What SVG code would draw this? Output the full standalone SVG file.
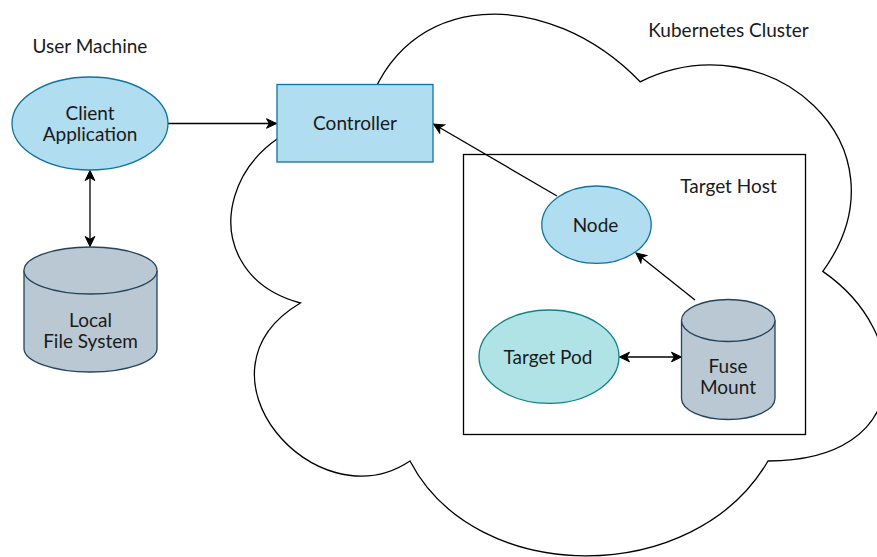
<svg xmlns="http://www.w3.org/2000/svg" width="877" height="557" viewBox="0 0 877 557">
  <style>
    text { font-family: Lato, "Noto Sans", "Liberation Sans", sans-serif; font-size: 19px; fill: #1a1a1a; text-anchor: middle; }
    .blue { fill: #b1ddf0; stroke: #10739e; stroke-width: 1.3; }
    .teal { fill: #b0e3e6; stroke: #0e8088; stroke-width: 1.3; }
    .disk { fill: #bac8d3; stroke: #23445d; stroke-width: 1.3; }
    .frame { fill: none; stroke: #000000; stroke-width: 1.3; }
    .edge { fill: none; stroke: #000000; stroke-width: 1.3; }
  </style>
  <defs>
    <marker id="arrow" viewBox="-11 -6 12 12" refX="0" refY="0" markerWidth="12" markerHeight="12" markerUnits="userSpaceOnUse" orient="auto-start-reverse">
      <path d="M0,0 L-10,-4.8 L-7.2,0 L-10,4.8 Z" fill="#000000" stroke="#000000" stroke-width="1" stroke-linejoin="miter"/>
    </marker>
  </defs>

  <rect width="877" height="557" fill="#ffffff"/>

  <!-- cluster cloud -->
  <g id="kubernetes-cluster">
    <path class="frame" fill="#ffffff" d="M366.15,113.4 C220.03,113.4 183.5,271.4 300.4,303 C183.5,372.5 315,524.2 410,461 C475.7,587.4 694.9,587.4 768,461 C914.1,461 914.1,334.6 822.8,271.4 C914.1,145 768,18.6 640.1,81.8 C548.8,-13 402.7,-13 366.15,113.4 Z"/>
    <text x="728.5" y="37">Kubernetes Cluster</text>
  </g>

  <!-- host boundary -->
  <g id="target-host">
    <rect class="frame" x="463.5" y="154.5" width="342" height="280"/>
    <text x="728.5" y="193">Target Host</text>
  </g>

  <g id="user-machine">
    <text x="90" y="53">User Machine</text>
  </g>

  <!-- connectors -->
  <g id="connectors">
    <line class="edge" x1="168" y1="123.5" x2="276.5" y2="123.5" marker-end="url(#arrow)"/>
    <line class="edge" x1="90" y1="170.5" x2="90" y2="246.5" marker-start="url(#arrow)" marker-end="url(#arrow)"/>
    <line class="edge" x1="557" y1="196" x2="433.5" y2="124" marker-end="url(#arrow)"/>
    <line class="edge" x1="695" y1="300" x2="636" y2="253" marker-end="url(#arrow)"/>
    <line class="edge" x1="619.5" y1="357" x2="681.5" y2="357" marker-start="url(#arrow)" marker-end="url(#arrow)"/>
  </g>

  <g id="controller">
    <rect class="blue" x="277" y="84.5" width="156" height="77.5"/>
    <text x="355" y="130">Controller</text>
  </g>

  <g id="client-application">
    <ellipse class="blue" cx="90" cy="123.5" rx="78" ry="46.5"/>
    <text x="90" y="120">Client</text>
    <text x="90" y="141">Application</text>
  </g>

  <g id="local-file-system">
    <path class="disk" d="M24,270.5 A66.5,23.5 0 0 1 157,270.5 L157,348.5 A66.5,23.5 0 0 1 24,348.5 Z"/>
    <path class="disk" fill="none" d="M24,270.5 A66.5,23.5 0 0 0 157,270.5"/>
    <text x="90.5" y="327">Local</text>
    <text x="90.5" y="348">File System</text>
  </g>

  <g id="node">
    <ellipse class="blue" cx="596.5" cy="224.7" rx="54.7" ry="38.7"/>
    <text x="595.5" y="231.5">Node</text>
  </g>

  <g id="target-pod">
    <ellipse class="teal" cx="549" cy="356.7" rx="70" ry="46.7"/>
    <text x="548" y="364">Target Pod</text>
  </g>

  <g id="fuse-mount">
    <path class="disk" d="M681.5,320.5 A46.75,21 0 0 1 775,320.5 L775,398.5 A46.75,21 0 0 1 681.5,398.5 Z"/>
    <path class="disk" fill="none" d="M681.5,320.5 A46.75,21 0 0 0 775,320.5"/>
    <text x="728" y="372.5">Fuse</text>
    <text x="728" y="394">Mount</text>
  </g>
</svg>
